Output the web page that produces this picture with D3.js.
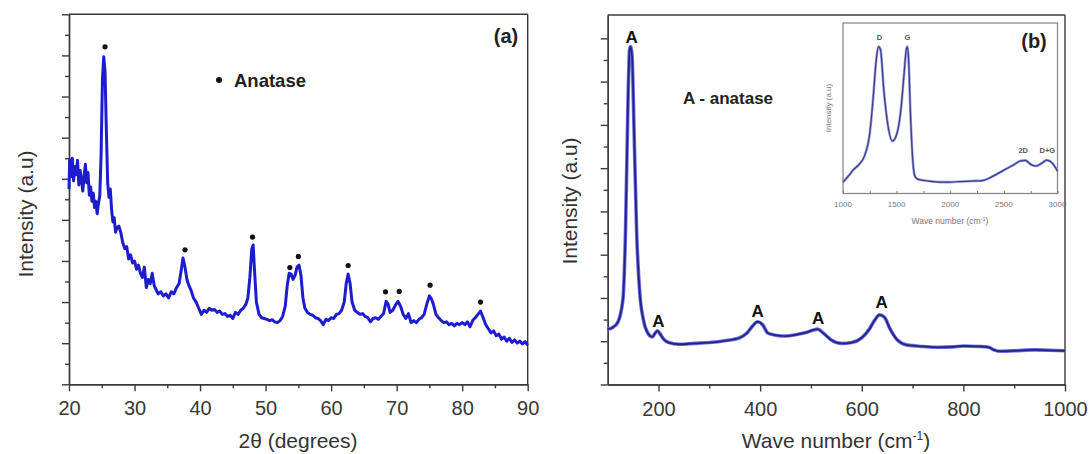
<!DOCTYPE html>
<html>
<head>
<meta charset="utf-8">
<script src="https://cdn.jsdelivr.net/npm/d3@7"></script>
<style>
  body { margin: 0; background: #fff; }
  svg { display: block; font-family: 'Liberation Sans', Arial, sans-serif; }
</style>
</head>
<body>
<svg width="1089" height="454"></svg>
<script>
// (a) XRD pattern
var xrdAngle = [20.0,20.1,20.3,20.5,20.7,20.9,21.1,21.3,21.5,21.7,21.9,22.1,22.3,22.5,22.7,22.9,23.1,23.3,23.5,23.7,23.9,24.1,24.3,24.5,24.7,24.9,25.1,25.3,25.5,25.7,25.9,26.1,26.3,26.5,26.7,26.9,27.1,27.3,27.6,27.9,28.2,28.5,28.8,29.1,29.4,29.7,30.0,30.3,30.6,30.9,31.2,31.5,31.8,32.1,32.4,32.7,33.0,33.3,33.6,34.0,34.4,34.8,35.2,35.6,36.0,36.4,36.8,37.1,37.4,37.7,38.0,38.3,38.6,39.0,39.4,39.8,40.2,40.6,41.0,41.4,41.8,42.2,42.6,43.0,43.4,43.8,44.2,44.6,45.0,45.4,45.8,46.2,46.6,47.0,47.3,47.6,47.9,48.1,48.3,48.6,49.0,49.4,49.8,50.2,50.6,51.0,51.4,51.8,52.2,52.6,53.0,53.3,53.6,53.9,54.2,54.5,54.8,55.1,55.4,55.7,56.0,56.4,56.8,57.2,57.6,58.0,58.4,58.8,59.2,59.6,60.0,60.4,60.8,61.2,61.6,62.0,62.3,62.6,62.9,63.2,63.6,64.0,64.4,64.8,65.2,65.6,66.0,66.4,66.8,67.2,67.6,68.0,68.4,68.7,69.0,69.4,69.8,70.2,70.6,71.0,71.4,71.8,72.2,72.6,73.0,73.4,73.8,74.2,74.6,75.0,75.3,75.6,76.0,76.4,76.8,77.2,77.6,78.0,78.4,78.8,79.2,79.6,80.0,80.4,80.8,81.2,81.6,82.0,82.4,82.8,83.2,83.6,84.0,84.4,84.8,85.2,85.6,86.0,86.4,86.8,87.2,87.6,88.0,88.4,88.8,89.2,89.6,90.0]
var xrdIntensity = [4.75,5.45,5.05,5.50,4.95,5.30,5.10,5.45,4.85,5.20,5.00,4.70,5.05,5.35,4.90,5.15,4.60,4.80,4.45,4.65,4.30,4.45,4.15,4.40,4.60,5.60,7.40,7.97,7.60,6.20,4.90,4.55,4.75,4.25,3.95,4.05,3.70,3.80,3.85,3.70,3.45,3.30,3.35,3.05,3.15,2.95,3.00,2.80,2.90,2.70,2.60,2.85,2.35,2.55,2.45,2.70,2.40,2.30,2.20,2.25,2.15,2.20,2.10,2.25,2.20,2.35,2.45,2.75,3.07,2.85,2.55,2.40,2.30,2.10,2.00,1.85,1.70,1.80,1.75,1.85,1.80,1.82,1.75,1.78,1.70,1.72,1.65,1.68,1.60,1.75,1.70,1.80,1.85,1.95,2.10,2.60,3.30,3.39,2.80,2.00,1.70,1.62,1.60,1.58,1.55,1.57,1.52,1.50,1.55,1.65,1.90,2.40,2.70,2.68,2.55,2.65,2.85,2.90,2.65,2.10,1.85,1.75,1.70,1.68,1.62,1.60,1.55,1.45,1.58,1.55,1.62,1.60,1.70,1.72,1.80,2.00,2.45,2.68,2.45,2.00,1.80,1.75,1.70,1.72,1.65,1.62,1.52,1.60,1.62,1.58,1.65,1.72,2.02,1.95,1.75,1.80,1.92,2.02,1.90,1.70,1.60,1.72,1.50,1.55,1.50,1.58,1.62,1.70,1.95,2.15,2.08,1.95,1.70,1.62,1.55,1.50,1.52,1.45,1.48,1.42,1.48,1.45,1.50,1.45,1.52,1.40,1.55,1.62,1.70,1.78,1.62,1.45,1.35,1.25,1.30,1.18,1.22,1.10,1.15,1.05,1.12,1.02,1.08,1.00,1.05,0.98,1.04,0.95]
var xrdPeakAngle = [25.5, 37.7, 48.0, 53.7, 55.0, 62.6, 68.3, 70.4, 75.1, 82.8]
var xrdPeakMark = [8.21, 3.27, 3.58, 2.84, 3.11, 2.89, 2.25, 2.26, 2.41, 2.00]
var xrdTicks = [20, 30, 40, 50, 60, 70, 80, 90]
var xrdMinor = [25, 35, 45, 55, 65, 75, 85]

// (b) Raman spectrum
var ramanShift = [100,110,120,130,135,140,143,145,148,152,157,163,170,180,188,193,198,203,210,220,240,270,300,330,360,375,385,395,405,415,430,450,470,490,505,513,525,540,560,580,600,615,625,635,645,655,670,690,720,750,780,800,830,850,860,870,900,940,970,1000]
var ramanIntensity = [1.28,1.32,1.44,1.97,3.51,6.58,7.73,7.81,7.58,5.81,3.51,2.13,1.51,1.17,1.10,1.18,1.24,1.17,1.05,0.97,0.93,0.95,0.97,1.01,1.08,1.20,1.35,1.45,1.38,1.19,1.14,1.12,1.15,1.20,1.26,1.28,1.18,1.03,0.95,0.97,1.08,1.28,1.48,1.61,1.55,1.30,1.03,0.91,0.88,0.86,0.87,0.89,0.88,0.86,0.80,0.77,0.78,0.80,0.79,0.78]
var ramanPeakShift = [147, 200, 395, 514, 639]
var ramanPeakMark = [7.89, 1.33, 1.56, 1.40, 1.77]
var ramanTicks = [200, 400, 600, 800, 1000]
var ramanMinor = [300, 500, 700, 900]

// (b) inset, carbon bands
var insetShift = [1000,1050,1100,1150,1200,1250,1280,1310,1330,1350,1380,1420,1460,1500,1540,1570,1590,1600,1610,1630,1650,1670,1700,1800,1900,2000,2100,2200,2300,2400,2500,2600,2650,2700,2750,2800,2850,2900,2950,3000]
var insetIntensity = [0.67,1.02,1.41,1.71,2.19,3.55,5.50,7.84,8.62,8.43,6.10,3.95,3.07,3.46,4.92,7.06,8.43,8.62,8.04,4.53,1.99,1.02,0.83,0.73,0.67,0.67,0.70,0.73,0.76,1.02,1.37,1.71,1.90,1.94,1.71,1.61,1.76,1.96,1.80,1.31]
var insetBand = ['D', 'G', '2D', 'D+G']
var insetBandShift = [1340, 1600, 2680, 2905]
var insetBandMark = [9.0, 9.0, 2.4, 2.4]
var insetTicks = [1000, 1500, 2000, 2500, 3000]
var insetMinor = [1250, 1750, 2250, 2750]

var svg = d3.select('svg')
var axisColor = '#3a3a3a'

function pts(xs, ys) {
  return xs.map(function(v, i) { return [v, ys[i]] })
}

// frame with outward ticks, no y labels
function frame(x, y, xMajor, xMinor, yMajor, yMinor) {
  var x0 = x.range()[0], x1 = x.range()[1]
  var y0 = y.range()[0], y1 = y.range()[1]
  var g = svg.append('g')

  g.append('g').attr('transform', 'translate(' + x0 + ',0)')
    .call(d3.axisLeft(y).tickValues(yMinor).tickSize(4).tickSizeOuter(0).tickFormat(''))
  g.append('g').attr('transform', 'translate(' + x0 + ',0)')
    .call(d3.axisLeft(y).tickValues(yMajor).tickSize(7).tickSizeOuter(0).tickFormat(''))
  g.append('g').attr('transform', 'translate(0,' + y0 + ')')
    .call(d3.axisBottom(x).tickValues(xMinor).tickSize(4).tickSizeOuter(0).tickFormat(''))
  var xa = g.append('g').attr('transform', 'translate(0,' + y0 + ')')
    .call(d3.axisBottom(x).tickValues(xMajor).tickSize(7).tickSizeOuter(0).tickFormat(d3.format('d')))

  xa.selectAll('text')
    .attr('y', 31).attr('dy', null)
    .attr('font-size', 20).attr('fill', '#383838')
    .attr('font-family', 'Liberation Sans, Arial, sans-serif')

  g.append('line').attr('x1', x0).attr('x2', x1).attr('y1', y1).attr('y2', y1)
  g.append('line').attr('x1', x1).attr('x2', x1).attr('y1', y1).attr('y2', y0)

  g.selectAll('path.domain, line').attr('stroke', axisColor).attr('stroke-width', 1.4)
  return g
}

// ---------- panel (a)
var xA = d3.scaleLinear().domain([20, 90]).range([69, 527.7])
var yA = d3.scaleLinear().domain([0, 9]).range([384.3, 14.3])

frame(xA, yA, xrdTicks, xrdMinor, d3.range(0, 9.5, 1), d3.range(0.5, 9, 1))

var lineA = d3.line().x(function(d) { return xA(d[0]) }).y(function(d) { return yA(d[1]) })
svg.append('path')
  .datum(pts(xrdAngle, xrdIntensity))
  .attr('d', lineA)
  .attr('fill', 'none')
  .attr('stroke', '#1d1dcf')
  .attr('stroke-width', 3)
  .attr('stroke-linejoin', 'round')

svg.selectAll('circle.xrd-peak')
  .data(pts(xrdPeakAngle, xrdPeakMark))
  .enter().append('circle')
  .attr('class', 'xrd-peak')
  .attr('cx', function(d) { return xA(d[0]) })
  .attr('cy', function(d) { return yA(d[1]) })
  .attr('r', 2.6)
  .attr('fill', '#111')

svg.append('circle').attr('cx', 219).attr('cy', 80).attr('r', 3).attr('fill', '#111')
svg.append('text').attr('x', 234).attr('y', 87)
  .attr('font-size', 18.5).attr('font-weight', 'bold').attr('fill', '#222')
  .text('Anatase')

svg.append('text').attr('x', 506).attr('y', 43)
  .attr('text-anchor', 'middle')
  .attr('font-size', 20).attr('font-weight', 'bold').attr('fill', '#222')
  .text('(a)')

svg.append('text').attr('x', 298).attr('y', 448)
  .attr('text-anchor', 'middle').attr('font-size', 21).attr('fill', '#333')
  .text('2θ (degrees)')

svg.append('text')
  .attr('transform', 'translate(33,214) rotate(-90)')
  .attr('text-anchor', 'middle').attr('font-size', 21).attr('fill', '#333')
  .text('Intensity (a.u)')

// ---------- panel (b)
var xB = d3.scaleLinear().domain([100, 1000]).range([607.7, 1065])
var yB = d3.scaleLinear().domain([0, 8.54]).range([384.5, 15])

frame(xB, yB, ramanTicks, ramanMinor, d3.range(0, 8.5, 1), d3.range(0.5, 8.5, 1))

var lineB = d3.line().curve(d3.curveMonotoneX)
  .x(function(d) { return xB(d[0]) }).y(function(d) { return yB(d[1]) })
var ramanPts = pts(ramanShift, ramanIntensity)
svg.append('path').datum(ramanPts).attr('d', lineB)
  .attr('fill', 'none').attr('stroke', '#6d6de0').attr('stroke-width', 3.6)
svg.append('path').datum(ramanPts).attr('d', lineB)
  .attr('fill', 'none').attr('stroke', '#222288').attr('stroke-width', 1.8)

svg.selectAll('text.raman-peak')
  .data(pts(ramanPeakShift, ramanPeakMark))
  .enter().append('text')
  .attr('class', 'raman-peak')
  .attr('x', function(d) { return xB(d[0]) })
  .attr('y', function(d) { return yB(d[1]) })
  .attr('text-anchor', 'middle')
  .attr('font-size', 17).attr('font-weight', 'bold').attr('fill', '#111')
  .text('A')

svg.append('text').attr('x', 683).attr('y', 104)
  .attr('font-size', 17).attr('font-weight', 'bold').attr('fill', '#222')
  .text('A - anatase')

var waveLabel = svg.append('text').attr('x', 836).attr('y', 448)
  .attr('text-anchor', 'middle').attr('font-size', 21).attr('fill', '#333')
waveLabel.append('tspan').text('Wave number (cm')
waveLabel.append('tspan').attr('dy', -8).attr('font-size', 12).text('-1')
waveLabel.append('tspan').attr('dy', 8).text(')')

svg.append('text')
  .attr('transform', 'translate(577,201) rotate(-90)')
  .attr('text-anchor', 'middle').attr('font-size', 21).attr('fill', '#333')
  .text('Intensity (a.u)')

// ---------- inset
var xI = d3.scaleLinear().domain([1000, 3000]).range([843, 1057.5])
var yI = d3.scaleLinear().domain([0, 10]).range([193.5, 23])
var grey = '#777'

svg.append('rect')
  .attr('x', xI.range()[0]).attr('y', yI.range()[1])
  .attr('width', xI.range()[1] - xI.range()[0])
  .attr('height', yI.range()[0] - yI.range()[1])
  .attr('fill', '#fff').attr('stroke', '#8a8a8a').attr('stroke-width', 1.3)

var ia = svg.append('g').attr('transform', 'translate(0,' + yI.range()[0] + ')')
  .call(d3.axisTop(xI).tickValues(insetTicks.concat(insetMinor)).tickSize(2.5).tickSizeOuter(0).tickFormat(''))
ia.select('path.domain').remove()
ia.selectAll('line').attr('stroke', grey)

svg.selectAll('text.inset-tick')
  .data(insetTicks)
  .enter().append('text')
  .attr('class', 'inset-tick')
  .attr('x', function(d) { return xI(d) })
  .attr('y', 207)
  .attr('text-anchor', 'middle').attr('font-size', 8).attr('fill', grey)
  .text(function(d) { return d })

var insetLabel = svg.append('text').attr('x', 950).attr('y', 224)
  .attr('text-anchor', 'middle').attr('font-size', 8.5).attr('fill', grey)
insetLabel.append('tspan').text('Wave number (cm')
insetLabel.append('tspan').attr('dy', -3).attr('font-size', 5.5).text('-1')
insetLabel.append('tspan').attr('dy', 3).text(')')

svg.append('text')
  .attr('transform', 'translate(831,108) rotate(-90)')
  .attr('text-anchor', 'middle').attr('font-size', 8).attr('fill', grey)
  .text('Intensity (a.u)')

var lineI = d3.line().curve(d3.curveMonotoneX)
  .x(function(d) { return xI(d[0]) }).y(function(d) { return yI(d[1]) })
var insetPts = pts(insetShift, insetIntensity)
svg.append('path').datum(insetPts).attr('d', lineI)
  .attr('fill', 'none').attr('stroke', '#9a9ae0').attr('stroke-width', 2.6)
svg.append('path').datum(insetPts).attr('d', lineI)
  .attr('fill', 'none').attr('stroke', '#3c3c88').attr('stroke-width', 1.2)

svg.selectAll('text.band')
  .data(insetBand)
  .enter().append('text')
  .attr('class', 'band')
  .attr('x', function(d, i) { return xI(insetBandShift[i]) })
  .attr('y', function(d, i) { return yI(insetBandMark[i]) })
  .attr('text-anchor', 'middle')
  .attr('font-size', 7.5).attr('font-weight', 'bold').attr('fill', '#555')
  .text(function(d) { return d })

svg.append('text').attr('x', 1034).attr('y', 48)
  .attr('text-anchor', 'middle')
  .attr('font-size', 20).attr('font-weight', 'bold').attr('fill', '#222')
  .text('(b)')
</script>
</body>
</html>
